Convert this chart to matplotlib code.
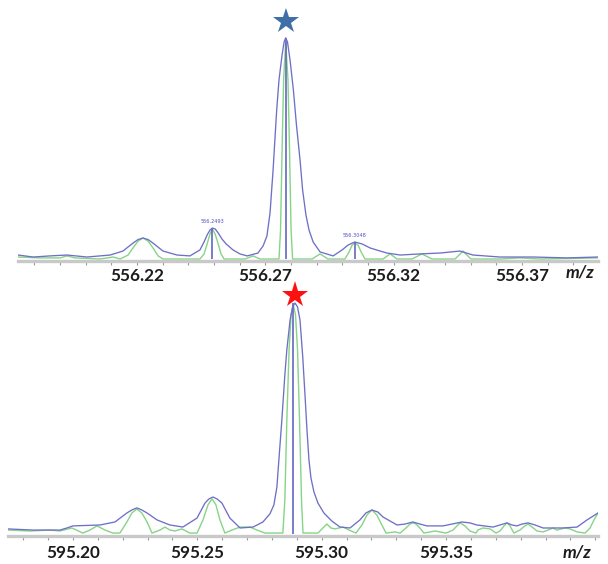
import numpy as np
import matplotlib
matplotlib.use("Agg")
import matplotlib.pyplot as plt

# ---------------- upper spectrum (m/z 556) ----------------
top_profile_mz = [556.1736, 556.1795, 556.1861, 556.1927, 556.2005, 556.2095, 556.2145, 556.2184,
                  556.2204, 556.2223, 556.2243, 556.2262, 556.2301, 556.2356, 556.2406, 556.2445,
                  556.2461, 556.2473, 556.2484, 556.2493, 556.2504, 556.2516, 556.2531, 556.2547,
                  556.2574, 556.2601, 556.2629, 556.2671, 556.2691, 556.2706, 556.2718, 556.2730,
                  556.2744, 556.2753, 556.2765, 556.2773, 556.2779, 556.2786, 556.2796, 556.2809,
                  556.2821, 556.2835, 556.2845, 556.2858, 556.2870, 556.2886, 556.2913, 556.2964,
                  556.2999, 556.3022, 556.3048, 556.3077, 556.3108, 556.3147, 556.3174, 556.3225,
                  556.3302, 556.3380, 556.3458, 556.3509, 556.3614, 556.3743, 556.3875, 556.3996]
top_profile_int = [1.8, 0.9, 1.4, 1.8, 0.9, 1.8, 3.6, 7.2,
                   8.8, 9.5, 8.8, 7.2, 3.6, 1.8, 1.4, 4.1,
                   7.7, 10.9, 13.1, 14.0, 13.6, 11.8, 9.0, 6.8,
                   4.1, 2.3, 1.4, 2.7, 5.9, 10.4, 20.8, 40.3,
                   67.4, 81.0, 92.3, 98.2, 100.0, 98.2, 90.0, 76.5,
                   60.6, 44.8, 31.2, 19.9, 13.1, 7.7, 3.2, 1.4,
                   4.1, 6.3, 7.7, 6.8, 5.0, 3.6, 2.7, 1.8,
                   2.3, 2.7, 3.6, 1.8, 0.9, 0.9, 0.5, 0.9]

top_fit_mz = [556.1736, 556.1822, 556.1900, 556.1927, 556.1958, 556.2056, 556.2107, 556.2134,
              556.2165, 556.2184, 556.2204, 556.2223, 556.2243, 556.2262, 556.2282, 556.2301,
              556.2445, 556.2461, 556.2473, 556.2484, 556.2493, 556.2504, 556.2516, 556.2527,
              556.2539, 556.2621, 556.2652, 556.2679, 556.2753, 556.2759, 556.2765, 556.2771,
              556.2779, 556.2788, 556.2794, 556.2800, 556.2806, 556.2882, 556.2913, 556.2944,
              556.3010, 556.3026, 556.3038, 556.3048, 556.3061, 556.3073, 556.3088, 556.3158,
              556.3186, 556.3213, 556.3271, 556.3310, 556.3349, 556.3439, 556.3470, 556.3501,
              556.3614, 556.3692, 556.3770, 556.3996]
top_fit_int = [0.9, 0.5, 0.5, 1.4, 0.5, 0.0, 0.9, 0.0,
               1.8, 5.0, 8.1, 9.5, 8.1, 5.0, 1.4, 0.0,
               0.0, 2.3, 6.8, 11.3, 13.6, 11.3, 6.8, 2.3,
               0.0, 0.0, 1.4, 0.0, 0.0, 13.1, 49.3, 81.0,
               98.2, 81.0, 49.3, 13.1, 0.0, 0.0, 2.3, 0.0,
               0.0, 3.2, 6.3, 7.2, 6.3, 3.2, 0.0, 0.0,
               2.3, 0.0, 0.0, 2.3, 0.0, 0.0, 3.6, 0.0,
               0.0, 0.5, 0.0, 0.5]

top_centroid_mz = [556.2493, 556.2779, 556.3048]
top_centroid_int = [14.0, 100.0, 7.7]
top_labels = ["556.2493", None, "556.3048"]
top_major_ticks = [556.22, 556.27, 556.32, 556.37]
top_tick_labels = ["556.22", "556.27", "556.32", "556.37"]
top_minor_ticks = [556.18, 556.19, 556.20, 556.21, 556.22, 556.23, 556.24, 556.25, 556.26, 556.27,
                   556.28, 556.29, 556.30, 556.31, 556.32, 556.33, 556.34, 556.35, 556.36, 556.37,
                   556.38, 556.39]
top_marked_mz = 556.2779

# ---------------- lower spectrum (m/z 595) ----------------
bot_profile_mz = [595.1739, 595.1839, 595.1948, 595.1976, 595.2000, 595.2109, 595.2169, 595.2217,
                  595.2237, 595.2257, 595.2277, 595.2298, 595.2338, 595.2390, 595.2442, 595.2499,
                  595.2531, 595.2547, 595.2563, 595.2579, 595.2599, 595.2631, 595.2672, 595.2724,
                  595.2764, 595.2792, 595.2808, 595.2820, 595.2828, 595.2840, 595.2852, 595.2860,
                  595.2873, 595.2883, 595.2893, 595.2903, 595.2913, 595.2924, 595.2933, 595.2941,
                  595.2949, 595.2957, 595.2969, 595.2985, 595.3009, 595.3041, 595.3074, 595.3114,
                  595.3154, 595.3178, 595.3202, 595.3226, 595.3246, 595.3303, 595.3335, 595.3367,
                  595.3395, 595.3423, 595.3488, 595.3524, 595.3564, 595.3596, 595.3624, 595.3689,
                  595.3717, 595.3745, 595.3765, 595.3785, 595.3805, 595.3830, 595.3858, 595.3890,
                  595.3970, 595.4027, 595.4067, 595.4111]
bot_profile_int = [2.2, 1.7, 1.7, 2.6, 3.5, 3.9, 5.2, 9.1,
                   10.4, 11.3, 10.4, 9.1, 6.1, 3.9, 3.0, 6.9,
                   13.4, 15.2, 16.0, 15.2, 13.4, 6.9, 2.6, 3.0,
                   5.2, 8.7, 12.6, 20.3, 32.0, 49.4, 68.8, 79.7,
                   92.6, 98.3, 100.0, 98.3, 92.6, 76.6, 60.2, 45.0,
                   32.0, 24.2, 18.2, 13.4, 9.1, 5.6, 3.0, 2.6,
                   6.1, 9.1, 10.4, 9.5, 7.4, 3.9, 4.3, 5.2,
                   4.3, 3.5, 3.5, 4.3, 5.2, 4.8, 3.9, 3.0,
                   3.9, 4.8, 3.9, 3.5, 4.3, 4.8, 3.9, 2.6,
                   2.6, 3.0, 6.1, 9.1]

bot_fit_mz = [595.1739, 595.1827, 595.1908, 595.1948, 595.1996, 595.2040, 595.2068, 595.2097,
              595.2129, 595.2161, 595.2189, 595.2217, 595.2237, 595.2257, 595.2277, 595.2298,
              595.2318, 595.2350, 595.2370, 595.2390, 595.2410, 595.2438, 595.2470, 595.2499,
              595.2523, 595.2543, 595.2559, 595.2575, 595.2591, 595.2611, 595.2639, 595.2672,
              595.2712, 595.2740, 595.2772, 595.2844, 595.2852, 595.2860, 595.2869, 595.2877,
              595.2886, 595.2895, 595.2903, 595.2911, 595.2919, 595.2925, 595.2985, 595.3005,
              595.3021, 595.3037, 595.3053, 595.3086, 595.3110, 595.3138, 595.3162, 595.3182,
              595.3202, 595.3222, 595.3242, 595.3259, 595.3295, 595.3315, 595.3339, 595.3355,
              595.3367, 595.3379, 595.3395, 595.3411, 595.3456, 595.3500, 595.3528, 595.3544,
              595.3556, 595.3576, 595.3596, 595.3620, 595.3628, 595.3649, 595.3677, 595.3701,
              595.3717, 595.3733, 595.3745, 595.3757, 595.3773, 595.3797, 595.3817, 595.3830,
              595.3846, 595.3866, 595.3890, 595.3910, 595.3930, 595.3946, 595.3978, 595.3998,
              595.4027, 595.4059, 595.4079, 595.4095, 595.4111]
bot_fit_int = [1.7, 1.3, 1.7, 1.3, 2.6, 0.4, 1.7, 3.5,
               1.7, 0.4, 0.4, 5.2, 9.1, 10.8, 9.1, 5.2,
               0.4, 1.7, 3.0, 1.7, 1.3, 2.2, 0.4, 0.4,
               6.1, 12.6, 15.2, 12.6, 6.1, 0.4, 1.7, 3.0,
               3.0, 1.7, 0.4, 0.4, 14.7, 49.4, 79.7, 94.8,
               99.1, 94.8, 79.7, 49.4, 14.7, 0.4, 0.4, 2.6,
               4.3, 2.6, 2.2, 3.0, 1.7, 0.4, 3.9, 8.2,
               10.4, 8.2, 3.9, 0.4, 0.9, 0.4, 2.6, 4.3,
               4.8, 4.3, 2.6, 0.4, 1.3, 0.4, 1.7, 3.5,
               4.8, 3.5, 1.3, 0.4, 1.7, 2.6, 2.2, 0.4,
               1.3, 3.5, 4.8, 3.5, 0.4, 1.7, 3.5, 4.3,
               3.0, 1.3, 0.9, 1.7, 2.6, 1.7, 2.6, 2.2,
               0.9, 0.4, 2.6, 6.1, 9.1]

bot_centroid_mz = [595.2886]
bot_centroid_int = [100.0]
bot_major_ticks = [595.20, 595.25, 595.30, 595.35]
bot_tick_labels = ["595.20", "595.25", "595.30", "595.35"]
bot_minor_ticks = [595.18, 595.19, 595.20, 595.21, 595.22, 595.23, 595.24, 595.25, 595.26, 595.27,
                   595.28, 595.29, 595.30, 595.31, 595.32, 595.33, 595.34, 595.35, 595.36, 595.37,
                   595.38, 595.39, 595.40, 595.41]
bot_marked_mz = 595.2893

PROFILE_COLOR = "#6e70c6"
FIT_COLOR = "#86d486"
STICK_COLOR = "#6466c0"
AXIS_GRAY = "#c9c9c9"

W, H = 608, 564
fig = plt.figure(figsize=(W / 100, H / 100), dpi=100)
fig.patch.set_facecolor("white")


def px_axes(left, right, top, bottom):
    return fig.add_axes([left / W, 1 - bottom / H, (right - left) / W, (bottom - top) / H])


def style_axis(ax, xlim, ylim, majors, labels, minors, pad):
    ax.set_xlim(*xlim)
    ax.set_ylim(*ylim)
    for side in ("left", "right", "top"):
        ax.spines[side].set_visible(False)
    ax.spines["bottom"].set_color(AXIS_GRAY)
    ax.spines["bottom"].set_linewidth(2.4)
    ax.set_yticks([])
    ax.set_xticks(majors)
    ax.set_xticklabels(labels, fontfamily="Lato", fontweight="bold", fontsize=12.3, color="#1c1c1c")
    ax.set_xticks(minors, minor=True)
    ax.tick_params(axis="x", which="both", direction="out", length=3, width=0.8,
                   color="#9a9a9a", pad=pad)
    ax.patch.set_alpha(0)


# upper panel
ax1 = px_axes(18, 598, 8, 261)
ax1.plot(top_fit_mz, top_fit_int, color=FIT_COLOR, lw=1.0, zorder=2)
ax1.vlines(top_centroid_mz, 0, top_centroid_int, color=STICK_COLOR, lw=1.2, zorder=3)
ax1.plot(top_profile_mz, top_profile_int, color=PROFILE_COLOR, lw=0.95, zorder=4)
for mz, inten, lab in zip(top_centroid_mz, top_centroid_int, top_labels):
    if lab:
        ax1.annotate(lab, (mz, inten), xytext=(0, 3), textcoords="offset points",
                     ha="center", va="bottom", fontsize=3.6, color="#5050c0")
# star marker just above the apex of the main peak
ax1.plot([top_marked_mz], [107.6], marker="*", markersize=19, color="#3f6fa6",
         markeredgewidth=0, linestyle="none", zorder=5, clip_on=False)
style_axis(ax1, (556.1736, 556.3996), (-0.9, 113.5), top_major_ticks, top_tick_labels,
           top_minor_ticks, pad=2.2)

# lower panel
ax2 = px_axes(8, 598, 288, 536)
ax2.plot(bot_fit_mz, bot_fit_int, color=FIT_COLOR, lw=1.0, zorder=2)
ax2.vlines(bot_centroid_mz, 0, bot_centroid_int, color=STICK_COLOR, lw=1.2, zorder=3)
ax2.plot(bot_profile_mz, bot_profile_int, color=PROFILE_COLOR, lw=0.95, zorder=4)
ax2.plot([bot_marked_mz], [103.6], marker="*", markersize=20, color="#ff1010",
         markeredgewidth=0, linestyle="none", zorder=5, clip_on=False)
style_axis(ax2, (595.1739, 595.4111), (-0.87, 106.5), bot_major_ticks, bot_tick_labels,
           bot_minor_ticks, pad=3.5)

# axis titles
fig.text(580 / W, 1 - 272 / H, "m/z", fontfamily="Lato", fontweight="bold", fontstyle="italic",
         fontsize=12.5, ha="center", va="center", color="#1c1c1c")
fig.text(577 / W, 1 - 553 / H, "m/z", fontfamily="Lato", fontweight="bold", fontstyle="italic",
         fontsize=12.5, ha="center", va="center", color="#1c1c1c")

fig.savefig("out.png", dpi=100, facecolor="white")
